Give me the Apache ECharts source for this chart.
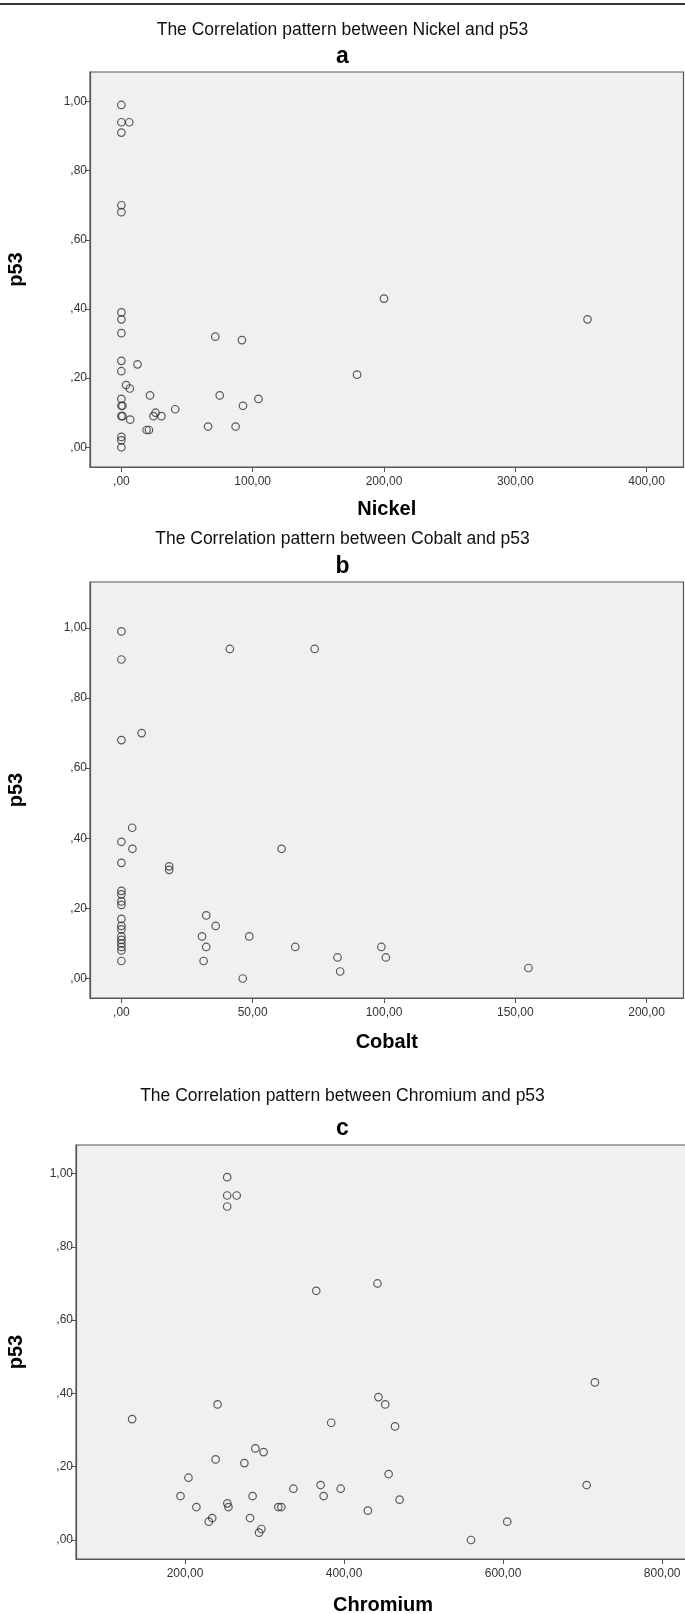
<!DOCTYPE html>
<html><head><meta charset="utf-8">
<script src="https://cdn.jsdelivr.net/npm/echarts@6/dist/echarts.min.js"></script>
<style>html,body{margin:0;padding:0;background:#fff}#c{width:685px;height:1614px}</style>
</head><body><div id="c"></div>
<script>
// Panel a: Nickel vs p53
const nickel = [0,0,6,0,0,0,0,0,0,0,0,12.3,3.6,6.4,0,0,0.8,0,0.8,6.7,0,0,0,21.8,26,24.4,30.5,19.2,21,41,71.5,91.8,74.9,92.6,104.4,66,87,179.5,200,355];
const nickelP53 = [0.99,0.94,0.94,0.91,0.70,0.68,0.39,0.37,0.33,0.25,0.22,0.24,0.18,0.17,0.14,0.12,0.12,0.09,0.09,0.08,0.03,0.02,0.00,0.15,0.10,0.09,0.09,0.05,0.05,0.11,0.32,0.31,0.15,0.12,0.14,0.06,0.06,0.21,0.43,0.37];
// Panel b: Cobalt vs p53
const cobalt = [0,0,0,7.7,41.3,73.6,4.1,0,4.2,0,18.2,18.2,61,0,0,0,0,0,0,0,0,0,0,0,0,0,32.3,35.9,30.7,32.3,31.3,48.7,46.2,66.2,82.3,83.3,99,100.7,155];
const cobaltP53 = [0.99,0.91,0.68,0.70,0.94,0.94,0.43,0.39,0.37,0.33,0.32,0.31,0.37,0.25,0.24,0.22,0.21,0.17,0.15,0.14,0.12,0.11,0.10,0.09,0.08,0.05,0.18,0.15,0.12,0.09,0.05,0.12,0.00,0.09,0.06,0.02,0.09,0.06,0.03];
// Panel c: Chromium vs p53
const chromium = [253,253,265,253,365,442,133.5,240.9,204.3,194.3,214.3,238.5,288.4,298.8,274.6,285,253.2,254.6,234.2,229.9,281.7,296,293.1,317.3,321.1,336.3,370.5,374.3,395.7,383.8,443.2,451.8,464.1,456,469.8,429.9,559.6,605.2,705,715.4];
const chromiumP53 = [0.99,0.94,0.94,0.91,0.68,0.70,0.33,0.37,0.17,0.12,0.09,0.22,0.25,0.24,0.21,0.12,0.10,0.09,0.06,0.05,0.06,0.03,0.02,0.09,0.09,0.14,0.15,0.12,0.14,0.32,0.39,0.37,0.31,0.18,0.11,0.08,0.00,0.05,0.15,0.43];

const yTicks = [0,0.2,0.4,0.6,0.8,1.0];
const nickelTicks = [0,100,200,300,400];
const cobaltTicks = [0,50,100,150,200];
const chromiumTicks = [200,400,600,800];

const titles = ['The Correlation pattern between Nickel and p53','The Correlation pattern between Cobalt and p53','The Correlation pattern between Chromium and p53'];
const letters = ['a','b','c'];
const xNames = ['Nickel','Cobalt','Chromium'];
const yName = 'p53';

function fmt(v){ let s = Number(v).toFixed(2).replace('.', ','); if (s.indexOf('0,')===0) s = s.slice(1); return s; }

const FONT = 'Liberation Sans, Arial, sans-serif';
const grids = [
  {left:90, top:72, width:593.5, height:395},
  {left:90, top:582, width:593.5, height:416},
  {left:76, top:1145, width:614, height:414}
];
const xr = [[-23.9,428.1],[-11.96,214.05],[62.9,835]];
const yr = [[-0.057,1.0853],[-0.0556,1.131],[-0.0518,1.0778]];
const xt = [nickelTicks, cobaltTicks, chromiumTicks];
const data = [[nickel,nickelP53],[cobalt,cobaltP53],[chromium,chromiumP53]];
const titleY = [26, 535, 1092];
const letterY = [52, 562, 1124];
const xNameGap = [32, 34, 36];
const yNameGap = [64, 64, 50];

const axisColor = '#555';
const option = {
  animation:false,
  backgroundColor:'#fff',
  title: [],
  grid: grids.map(g=>Object.assign({show:true, backgroundColor:'#f0f0f0', borderColor:axisColor, borderWidth:1.2, containLabel:false, outerBoundsMode:'none'}, g)),
  xAxis: [], yAxis: [], series: [],
  graphic: [{type:'line', shape:{x1:0,y1:4,x2:685,y2:4}, style:{stroke:'#333', lineWidth:2}}]
};
for (let i=0;i<3;i++){
  option.title.push({text:titles[i], left:'center', top:titleY[i]-9.5, textStyle:{fontFamily:FONT, fontSize:17.5, fontWeight:'normal', color:'#111'}});
  option.title.push({text:letters[i], left:'center', top:letterY[i]-12, textStyle:{fontFamily:FONT, fontSize:23, fontWeight:'bold', color:'#000'}});
  option.xAxis.push({type:'value', gridIndex:i, min:xr[i][0], max:xr[i][1], position:'bottom',
    name:xNames[i], nameLocation:'middle', nameGap:xNameGap[i], nameTextStyle:{fontFamily:FONT, fontSize:20, fontWeight:'bold', color:'#000'},
    axisLine:{show:true, onZero:false, lineStyle:{color:axisColor, width:1.2}},
    axisTick:{show:true, length:5, customValues:xt[i], lineStyle:{color:axisColor}},
    axisLabel:{customValues:xt[i], formatter:fmt, margin:9, fontFamily:FONT, fontSize:12, color:'#333'},
    splitLine:{show:false}});
  option.yAxis.push({type:'value', gridIndex:i, min:yr[i][0], max:yr[i][1],
    name:yName, nameLocation:'middle', nameGap:yNameGap[i], nameRotate:90, nameTextStyle:{fontFamily:FONT, fontSize:20, fontWeight:'bold', color:'#000'},
    axisLine:{show:true, onZero:false, lineStyle:{color:axisColor, width:1.2}},
    axisTick:{show:true, length:5, customValues:yTicks, lineStyle:{color:axisColor}},
    axisLabel:{customValues:yTicks, formatter:fmt, margin:3, fontFamily:FONT, fontSize:12, color:'#333'},
    splitLine:{show:false}});
  option.series.push({type:'scatter', xAxisIndex:i, yAxisIndex:i, symbol:'circle', symbolSize:7.5,
    itemStyle:{color:'rgba(0,0,0,0)', borderColor:'#333', borderWidth:1.2},
    data: data[i][0].map((x,k)=>[x, data[i][1][k]])});
}
const chart = echarts.init(document.getElementById('c'), null, {renderer:'canvas'});
chart.setOption(option);
</script></body></html>
